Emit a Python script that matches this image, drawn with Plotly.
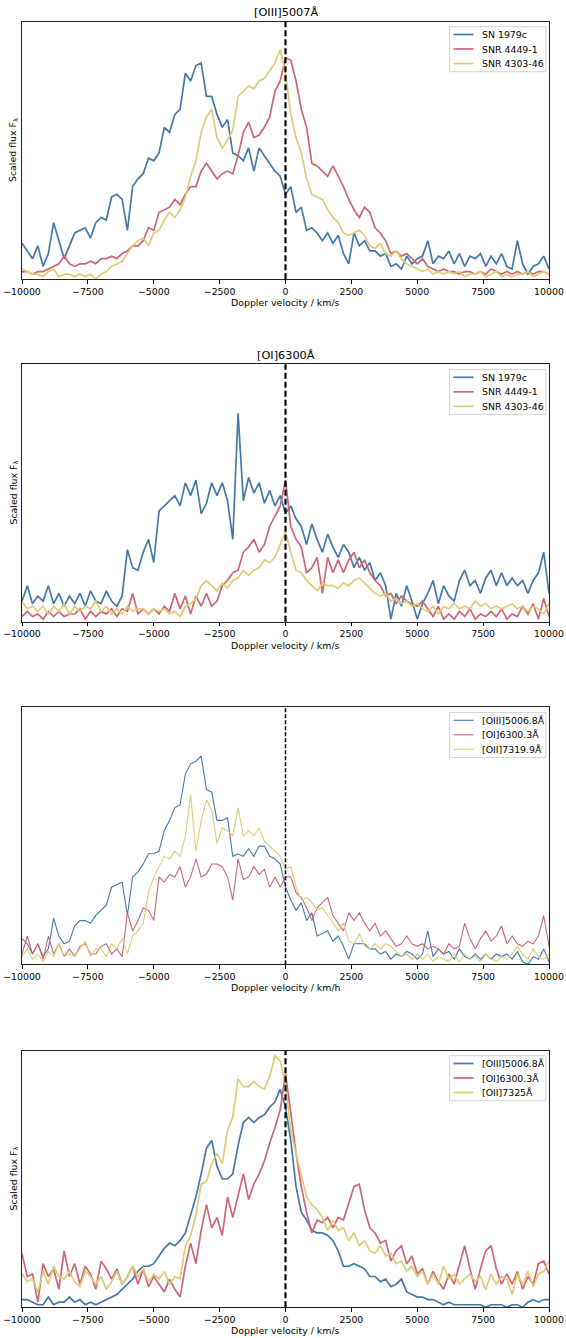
import plotly.graph_objects as go

# Rebinned spectra on a common Doppler-velocity grid (km/s), scaled flux.
VELOCITY = list(range(-10000, 10001, 200))

TICK_VALUES = [-10000, -7500, -5000, -2500, 0, 2500, 5000, 7500, 10000]
TICK_LABELS = ["\u221210000", "\u22127500", "\u22125000", "\u22122500", "0",
               "2500", "5000", "7500", "10000"]

# ---- [OIII]5007 profiles -------------------------------------------------
OIII_SN1979C = [
    0.14, 0.11, 0.08, 0.13, 0.05, 0.10, 0.22, 0.15, 0.08, 0.13,
    0.18, 0.19, 0.20, 0.16, 0.22, 0.24, 0.23, 0.32, 0.33, 0.31,
    0.19, 0.36, 0.39, 0.41, 0.47, 0.46, 0.49, 0.59, 0.57, 0.64,
    0.66, 0.80, 0.77, 0.83, 0.84, 0.71, 0.71, 0.64, 0.59, 0.62,
    0.49, 0.48, 0.46, 0.51, 0.42, 0.51, 0.48, 0.45, 0.42, 0.40,
    0.33, 0.36, 0.26, 0.28, 0.19, 0.20, 0.18, 0.15, 0.18, 0.14,
    0.17, 0.10, 0.06, 0.18, 0.13, 0.15, 0.11, 0.11, 0.09, 0.10,
    0.05, 0.06, 0.04, 0.09, 0.06, 0.08, 0.09, 0.15, 0.06, 0.09,
    0.08, 0.11, 0.06, 0.10, 0.05, 0.09, 0.08, 0.10, 0.05, 0.09,
    0.06, 0.10, 0.05, 0.04, 0.15, 0.06, 0.02, 0.05, 0.06, 0.09,
    0.04]
OIII_SNR4449_1 = [
    0.03, 0.03, 0.02, 0.03, 0.03, 0.04, 0.05, 0.06, 0.09, 0.06,
    0.05, 0.06, 0.06, 0.07, 0.06, 0.08, 0.08, 0.09, 0.08, 0.10,
    0.11, 0.13, 0.13, 0.15, 0.20, 0.19, 0.26, 0.27, 0.28, 0.31,
    0.29, 0.33, 0.36, 0.36, 0.42, 0.45, 0.42, 0.39, 0.41, 0.42,
    0.41, 0.48, 0.57, 0.61, 0.55, 0.56, 0.59, 0.63, 0.73, 0.77,
    0.86, 0.85, 0.77, 0.66, 0.59, 0.45, 0.44, 0.42, 0.40, 0.44,
    0.40, 0.36, 0.31, 0.27, 0.24, 0.28, 0.26, 0.20, 0.18, 0.15,
    0.10, 0.11, 0.09, 0.10, 0.08, 0.06, 0.08, 0.05, 0.04, 0.03,
    0.04, 0.03, 0.03, 0.02, 0.03, 0.03, 0.02, 0.03, 0.02, 0.04,
    0.03, 0.02, 0.03, 0.02, 0.03, 0.02, 0.03, 0.02, 0.03, 0.03,
    0.02]
OIII_SNR4303_46 = [
    0.04, 0.03, 0.02, 0.02, 0.01, 0.03, 0.04, 0.01, 0.02, 0.02,
    0.01, 0.02, 0.01, 0.02, 0.00, 0.02, 0.03, 0.05, 0.06, 0.07,
    0.10, 0.13, 0.15, 0.16, 0.13, 0.18, 0.19, 0.23, 0.26, 0.24,
    0.27, 0.32, 0.40, 0.46, 0.57, 0.63, 0.66, 0.55, 0.51, 0.54,
    0.58, 0.71, 0.73, 0.75, 0.74, 0.77, 0.78, 0.81, 0.84, 0.89,
    0.80, 0.64, 0.55, 0.49, 0.39, 0.33, 0.32, 0.31, 0.27, 0.24,
    0.22, 0.18, 0.17, 0.18, 0.19, 0.17, 0.13, 0.12, 0.14, 0.10,
    0.09, 0.11, 0.08, 0.06, 0.05, 0.04, 0.03, 0.04, 0.02, 0.03,
    0.02, 0.03, 0.02, 0.03, 0.01, 0.02, 0.02, 0.03, 0.01, 0.02,
    0.03, 0.01, 0.02, 0.01, 0.02, 0.02, 0.03, 0.01, 0.02, 0.03,
    0.02]

# ---- [OI]6300 profiles ---------------------------------------------------
OI_SN1979C = [
    0.08, 0.14, 0.07, 0.10, 0.08, 0.14, 0.07, 0.11, 0.06, 0.10,
    0.07, 0.11, 0.06, 0.12, 0.08, 0.07, 0.12, 0.08, 0.06, 0.10,
    0.28, 0.21, 0.20, 0.27, 0.32, 0.23, 0.43, 0.45, 0.47, 0.49,
    0.45, 0.54, 0.49, 0.55, 0.42, 0.46, 0.54, 0.49, 0.54, 0.47,
    0.32, 0.81, 0.47, 0.56, 0.50, 0.54, 0.46, 0.51, 0.45, 0.49,
    0.42, 0.45, 0.40, 0.37, 0.30, 0.38, 0.32, 0.27, 0.34, 0.29,
    0.25, 0.30, 0.27, 0.21, 0.25, 0.20, 0.23, 0.16, 0.19, 0.14,
    0.01, 0.11, 0.06, 0.14, 0.08, 0.01, 0.07, 0.11, 0.16, 0.07,
    0.14, 0.10, 0.08, 0.16, 0.20, 0.14, 0.16, 0.11, 0.17, 0.20,
    0.14, 0.19, 0.14, 0.17, 0.14, 0.16, 0.11, 0.16, 0.19, 0.27,
    0.11]
OI_SNR4449_1 = [
    0.02, 0.04, 0.02, 0.03, 0.01, 0.04, 0.02, 0.04, 0.02, 0.03,
    0.03, 0.05, 0.01, 0.04, 0.02, 0.04, 0.03, 0.05, 0.02, 0.05,
    0.04, 0.11, 0.03, 0.05, 0.03, 0.05, 0.03, 0.06, 0.04, 0.11,
    0.05, 0.10, 0.03, 0.10, 0.06, 0.11, 0.06, 0.08, 0.14, 0.16,
    0.19, 0.20, 0.27, 0.29, 0.32, 0.27, 0.30, 0.37, 0.41, 0.45,
    0.55, 0.37, 0.32, 0.29, 0.19, 0.21, 0.25, 0.11, 0.25, 0.19,
    0.24, 0.19, 0.24, 0.27, 0.21, 0.24, 0.19, 0.16, 0.14, 0.10,
    0.11, 0.07, 0.10, 0.08, 0.07, 0.06, 0.08, 0.05, 0.02, 0.06,
    0.01, 0.03, 0.01, 0.04, 0.02, 0.05, 0.01, 0.03, 0.02, 0.04,
    0.02, 0.05, 0.01, 0.03, 0.02, 0.06, 0.03, 0.07, 0.01, 0.09,
    0.02]
OI_SNR4303_46 = [
    0.08, 0.05, 0.06, 0.04, 0.06, 0.03, 0.06, 0.04, 0.07, 0.03,
    0.06, 0.04, 0.06, 0.05, 0.08, 0.04, 0.06, 0.03, 0.05, 0.03,
    0.06, 0.04, 0.05, 0.05, 0.03, 0.05, 0.04, 0.05, 0.03, 0.04,
    0.02, 0.06, 0.07, 0.09, 0.14, 0.16, 0.14, 0.12, 0.15, 0.13,
    0.16, 0.17, 0.20, 0.18, 0.20, 0.21, 0.24, 0.23, 0.25, 0.30,
    0.35, 0.27, 0.20, 0.19, 0.16, 0.14, 0.12, 0.15, 0.14, 0.14,
    0.13, 0.15, 0.14, 0.16, 0.17, 0.15, 0.13, 0.11, 0.10, 0.11,
    0.08, 0.09, 0.07, 0.08, 0.06, 0.07, 0.05, 0.04, 0.06, 0.03,
    0.06, 0.05, 0.07, 0.05, 0.06, 0.05, 0.08, 0.06, 0.07, 0.05,
    0.06, 0.05, 0.06, 0.07, 0.05, 0.06, 0.04, 0.06, 0.05, 0.03,
    0.07]

# ---- SN 1979c: three oxygen lines --------------------------------------
SN1979C_OIII = [
    0.10, 0.08, 0.04, 0.08, 0.03, 0.06, 0.18, 0.11, 0.08, 0.09,
    0.15, 0.17, 0.17, 0.16, 0.19, 0.21, 0.23, 0.30, 0.31, 0.32,
    0.19, 0.34, 0.36, 0.39, 0.43, 0.43, 0.44, 0.52, 0.56, 0.61,
    0.62, 0.74, 0.78, 0.79, 0.81, 0.68, 0.67, 0.56, 0.56, 0.57,
    0.42, 0.43, 0.42, 0.45, 0.42, 0.46, 0.46, 0.42, 0.41, 0.39,
    0.30, 0.25, 0.21, 0.24, 0.17, 0.20, 0.11, 0.12, 0.13, 0.09,
    0.11, 0.07, 0.02, 0.08, 0.08, 0.08, 0.06, 0.06, 0.04, 0.05,
    0.02, 0.04, 0.03, 0.05, 0.04, 0.02, 0.04, 0.13, 0.03, 0.06,
    0.04, 0.05, 0.02, 0.06, 0.03, 0.02, 0.04, 0.02, 0.04, 0.02,
    0.04, 0.03, 0.04, 0.02, 0.05, 0.01, 0.00, 0.03, 0.02, 0.06,
    0.01]
SN1979C_OI = [
    0.04, 0.11, 0.04, 0.08, 0.02, 0.11, 0.04, 0.08, 0.03, 0.06,
    0.03, 0.07, 0.08, 0.04, 0.04, 0.07, 0.08, 0.04, 0.06, 0.03,
    0.20, 0.13, 0.17, 0.22, 0.21, 0.17, 0.34, 0.32, 0.35, 0.34,
    0.38, 0.30, 0.34, 0.41, 0.34, 0.35, 0.39, 0.39, 0.38, 0.34,
    0.25, 0.41, 0.33, 0.34, 0.38, 0.35, 0.37, 0.30, 0.34, 0.30,
    0.34, 0.34, 0.28, 0.26, 0.22, 0.17, 0.22, 0.24, 0.26, 0.19,
    0.16, 0.13, 0.20, 0.17, 0.20, 0.16, 0.13, 0.16, 0.11, 0.13,
    0.10, 0.07, 0.08, 0.11, 0.08, 0.07, 0.08, 0.06, 0.07, 0.06,
    0.04, 0.08, 0.06, 0.07, 0.16, 0.10, 0.06, 0.10, 0.13, 0.09,
    0.11, 0.15, 0.08, 0.11, 0.08, 0.07, 0.09, 0.08, 0.11, 0.19,
    0.07]
SN1979C_OII = [
    0.03, 0.06, 0.02, 0.04, 0.01, 0.05, 0.03, 0.08, 0.03, 0.04,
    0.03, 0.06, 0.09, 0.03, 0.06, 0.06, 0.03, 0.08, 0.06, 0.10,
    0.04, 0.11, 0.13, 0.16, 0.28, 0.34, 0.38, 0.42, 0.41, 0.44,
    0.42, 0.50, 0.66, 0.44, 0.56, 0.64, 0.60, 0.47, 0.53, 0.52,
    0.50, 0.61, 0.50, 0.52, 0.50, 0.53, 0.48, 0.46, 0.44, 0.42,
    0.37, 0.38, 0.30, 0.25, 0.26, 0.24, 0.21, 0.22, 0.19, 0.16,
    0.13, 0.16, 0.09, 0.08, 0.12, 0.07, 0.06, 0.08, 0.06, 0.08,
    0.07, 0.05, 0.03, 0.04, 0.02, 0.04, 0.02, 0.04, 0.01, 0.03,
    0.02, 0.01, 0.04, 0.01, 0.04, 0.02, 0.03, 0.01, 0.04, 0.02,
    0.01, 0.03, 0.02, 0.04, 0.07, 0.04, 0.02, 0.06, 0.03, 0.02,
    0.04]

# ---- Remnant: three oxygen lines ---------------------------------------
SNR_OIII = [
    0.03, 0.03, 0.02, 0.01, 0.01, 0.04, 0.01, 0.02, 0.02, 0.04,
    0.02, 0.03, 0.01, 0.02, 0.01, 0.02, 0.03, 0.04, 0.05, 0.07,
    0.09, 0.11, 0.14, 0.16, 0.16, 0.17, 0.20, 0.23, 0.25, 0.24,
    0.26, 0.29, 0.36, 0.43, 0.52, 0.62, 0.65, 0.55, 0.50, 0.50,
    0.52, 0.63, 0.72, 0.74, 0.72, 0.74, 0.75, 0.78, 0.80, 0.85,
    0.78, 0.65, 0.47, 0.37, 0.34, 0.30, 0.29, 0.29, 0.28, 0.26,
    0.22, 0.16, 0.16, 0.17, 0.16, 0.15, 0.12, 0.12, 0.10, 0.11,
    0.08, 0.09, 0.11, 0.06, 0.05, 0.04, 0.04, 0.03, 0.03, 0.02,
    0.01, 0.02, 0.01, 0.01, 0.01, 0.01, 0.01, 0.01, 0.00, 0.01,
    0.01, 0.01, 0.00, 0.01, 0.01, 0.00, 0.02, 0.03, 0.02, 0.03,
    0.03]
SNR_OI = [
    0.21, 0.12, 0.13, 0.02, 0.17, 0.12, 0.15, 0.07, 0.22, 0.12,
    0.17, 0.09, 0.16, 0.13, 0.07, 0.18, 0.15, 0.11, 0.15, 0.09,
    0.12, 0.16, 0.09, 0.15, 0.08, 0.12, 0.09, 0.06, 0.11, 0.07,
    0.04, 0.16, 0.25, 0.17, 0.30, 0.40, 0.31, 0.35, 0.28, 0.43,
    0.35, 0.43, 0.52, 0.42, 0.48, 0.52, 0.57, 0.64, 0.70, 0.77,
    0.91, 0.76, 0.60, 0.47, 0.37, 0.29, 0.34, 0.33, 0.35, 0.31,
    0.35, 0.34, 0.41, 0.47, 0.48, 0.38, 0.31, 0.29, 0.25, 0.26,
    0.18, 0.22, 0.24, 0.17, 0.20, 0.13, 0.15, 0.09, 0.14, 0.10,
    0.07, 0.13, 0.09, 0.17, 0.24, 0.15, 0.07, 0.15, 0.22, 0.24,
    0.15, 0.09, 0.13, 0.09, 0.14, 0.07, 0.12, 0.09, 0.17, 0.18,
    0.13]
SNR_OII = [
    0.13, 0.10, 0.11, 0.06, 0.14, 0.09, 0.16, 0.12, 0.11, 0.14,
    0.10, 0.08, 0.14, 0.12, 0.09, 0.12, 0.07, 0.10, 0.14, 0.09,
    0.12, 0.16, 0.12, 0.15, 0.10, 0.13, 0.11, 0.14, 0.09, 0.12,
    0.11, 0.24, 0.28, 0.36, 0.48, 0.49, 0.56, 0.60, 0.56, 0.69,
    0.74, 0.89, 0.86, 0.86, 0.88, 0.86, 0.85, 0.90, 0.98, 0.96,
    0.87, 0.69, 0.60, 0.52, 0.43, 0.40, 0.38, 0.35, 0.30, 0.34,
    0.30, 0.31, 0.26, 0.29, 0.24, 0.26, 0.22, 0.21, 0.24, 0.20,
    0.21, 0.17, 0.18, 0.14, 0.16, 0.12, 0.14, 0.09, 0.13, 0.09,
    0.16, 0.11, 0.13, 0.09, 0.11, 0.13, 0.10, 0.12, 0.07, 0.13,
    0.09, 0.12, 0.11, 0.05, 0.13, 0.09, 0.14, 0.08, 0.13, 0.14,
    0.18]

LINE_COLORS = ["#4477AA", "#CC6677", "#DDCC77"]

# Page geometry in pixels (566 x 1338)
W, H = 566, 1338
AX_LEFT, AX_RIGHT = 22, 549
FONT = "DejaVu Sans"
TEXT_SIZE = 9.4

# Legend box geometry (pixels)
LEG_LEFT, LEG_RIGHT, LEG_HEIGHT = 449.5, 546, 45
LEG_ROWS = [7.8, 22.3, 36.8]          # row centres below the box top
LEG_SAMPLE = (453.5, 473.5)           # line sample extent
LEG_TEXT_X = 480

PANELS = [
    dict(title="[OIII]5007Å",
         names=["SN 1979c", "SNR 4449-1", "SNR 4303-46"],
         series=[OIII_SN1979C, OIII_SNR4449_1, OIII_SNR4303_46],
         xlabel="Doppler velocity / km/s", ylabel=True,
         lw=1.7, vlw=2.2, dash="6px,3px", top=21.7, bottom=279.3, legend_top=26.7),
    dict(title="[OI]6300Å",
         names=["SN 1979c", "SNR 4449-1", "SNR 4303-46"],
         series=[OI_SN1979C, OI_SNR4449_1, OI_SNR4303_46],
         xlabel="Doppler velocity / km/s", ylabel=True,
         lw=1.7, vlw=2.2, dash="6px,3px", top=364.3, bottom=621.7, legend_top=369.5),
    dict(title=None,
         names=["[OIII]5006.8Å", "[OI]6300.3Å", "[OII]7319.9Å"],
         series=[SN1979C_OIII, SN1979C_OI, SN1979C_OII],
         xlabel="Doppler velocity / km/h", ylabel=False,
         lw=1.1, vlw=1.5, dash="4px,2px", top=707.3, bottom=964.3, legend_top=712.5),
    dict(title=None,
         names=["[OIII]5006.8Å", "[OI]6300.3Å", "[OII]7325Å"],
         series=[SNR_OIII, SNR_OI, SNR_OII],
         xlabel="Doppler velocity / km/s", ylabel=True,
         lw=1.7, vlw=2.2, dash="6px,3px", top=1050.7, bottom=1307.3, legend_top=1055.7),
]


def px_x(x):
    return x / W


def px_y(y):
    return 1 - y / H


fig = go.Figure()
layout = dict(
    template="none",
    width=W, height=H, autosize=False,
    margin=dict(l=0, r=0, t=0, b=0, pad=0),
    paper_bgcolor="white", plot_bgcolor="white",
    font=dict(family=FONT, size=TEXT_SIZE, color="black"),
    showlegend=False,
)
annotations, shapes = [], []
x_dom = [px_x(AX_LEFT), px_x(AX_RIGHT)]
x_mid = (x_dom[0] + x_dom[1]) / 2

for k, p in enumerate(PANELS, start=1):
    sfx = "" if k == 1 else str(k)
    xref, yref = "x" + sfx, "y" + sfx
    y_dom = [px_y(p["bottom"]), px_y(p["top"])]

    for name, values, color in zip(p["names"], p["series"], LINE_COLORS):
        fig.add_trace(go.Scatter(
            x=VELOCITY, y=values, mode="lines", name=name,
            line=dict(color=color, width=p["lw"]),
            xaxis=xref, yaxis=yref, hoverinfo="skip",
        ))

    layout["xaxis" + sfx] = dict(
        domain=x_dom, anchor=yref, range=[-10000, 10000], automargin=False,
        tickmode="array", tickvals=TICK_VALUES, ticktext=TICK_LABELS,
        ticks="outside", ticklen=3.5, tickwidth=1, tickcolor="black",
        tickfont=dict(size=TEXT_SIZE, color="black", family=FONT),
        showline=True, mirror=True, linecolor="#222", linewidth=1,
        showgrid=False, zeroline=False,
    )
    layout["yaxis" + sfx] = dict(
        domain=y_dom, anchor=xref, range=[0, 1], automargin=False,
        showticklabels=False, ticks="",
        showline=True, mirror=True, linecolor="#222", linewidth=1,
        showgrid=False, zeroline=False,
    )

    # rest-frame velocity marker
    shapes.append(dict(
        type="line", xref=xref, yref=yref + " domain",
        x0=0, x1=0, y0=0, y1=1,
        line=dict(color="black", width=p["vlw"], dash=p["dash"]),
    ))

    # legend: framed box with a line sample and a label per series
    top = p["legend_top"]
    shapes.append(dict(
        type="rect", xref="paper", yref="paper",
        x0=px_x(LEG_LEFT), x1=px_x(LEG_RIGHT),
        y0=px_y(top + LEG_HEIGHT), y1=px_y(top),
        line=dict(color="#d6d6d6", width=1), fillcolor="rgba(255,255,255,0.8)",
    ))
    for name, color, row in zip(p["names"], LINE_COLORS, LEG_ROWS):
        yc = px_y(top + row)
        shapes.append(dict(
            type="line", xref="paper", yref="paper",
            x0=px_x(LEG_SAMPLE[0]), x1=px_x(LEG_SAMPLE[1]), y0=yc, y1=yc,
            line=dict(color=color, width=p["lw"]),
        ))
        annotations.append(dict(
            text=name, xref="paper", yref="paper",
            x=px_x(LEG_TEXT_X), y=yc, xanchor="left", yanchor="middle",
            showarrow=False, font=dict(size=TEXT_SIZE, color="black", family=FONT),
        ))

    if p["title"]:
        annotations.append(dict(
            text=p["title"], xref="paper", yref="paper",
            x=x_mid, y=px_y(p["top"] - 9),
            xanchor="center", yanchor="middle", showarrow=False,
            font=dict(size=11.3, color="black", family=FONT),
        ))
    annotations.append(dict(
        text=p["xlabel"], xref="paper", yref="paper",
        x=x_mid, y=px_y(p["bottom"] + 23.5),
        xanchor="center", yanchor="middle", showarrow=False,
        font=dict(size=TEXT_SIZE, color="black", family=FONT),
    ))
    if p["ylabel"]:
        annotations.append(dict(
            text="Scaled flux F<sub>λ</sub>", xref="paper", yref="paper",
            x=px_x(13.5), y=px_y((p["top"] + p["bottom"]) / 2),
            xanchor="center", yanchor="middle", showarrow=False, textangle=-90,
            font=dict(size=TEXT_SIZE, color="black", family=FONT),
        ))

layout["annotations"] = annotations
layout["shapes"] = shapes
fig.update_layout(**layout)
fig.write_html("out.html")
